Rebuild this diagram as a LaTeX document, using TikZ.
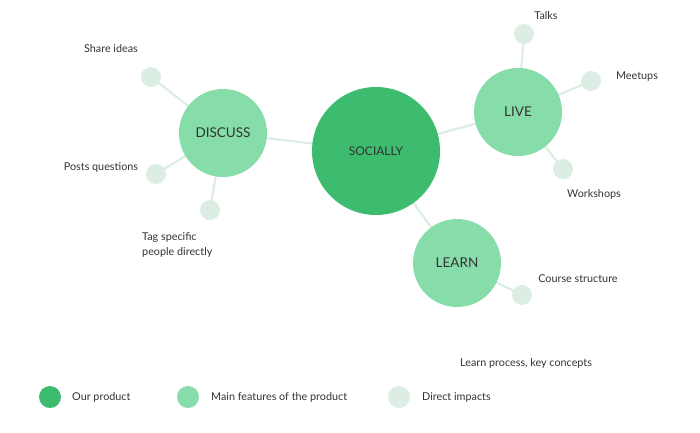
\documentclass[tikz,border=0pt]{standalone}
\usepackage{fontspec}
\setmainfont{Lato}
\definecolor{dk}{HTML}{3DBC6F}
\definecolor{md}{HTML}{86DDA9}
\definecolor{lt}{HTML}{DCEDE3}
\definecolor{txt}{HTML}{333333}
\pgfdeclarelayer{bg}
\pgfsetlayers{bg,main}
\begin{document}
\begin{tikzpicture}[x=1pt,y=-1pt,
  prod/.style={circle,fill=dk,minimum size=128pt,inner sep=0pt,text=txt,font=\fontsize{12}{14}\selectfont},
  feat/.style={circle,fill=md,minimum size=88pt,inner sep=0pt,text=txt,font=\fontsize{13.5}{15}\selectfont},
  imp/.style={circle,fill=lt,minimum size=20pt,inner sep=0pt},
  lab/.style={text=txt,font=\fontsize{10.8}{15}\selectfont,inner sep=0pt},
  link/.style={draw=lt,line width=2.2pt},
  legdot/.style={circle,minimum size=22pt,inner sep=0pt}]
\useasboundingbox (0,0) rectangle (700,432);
% nodes
\node[prod] (soc) at (376,151) {SOCIALLY};
\node[feat] (disc) at (223,133) {DISCUSS};
\node[feat] (live) at (518,112) {LIVE};
\node[feat] (learn) at (457,263) {LEARN};
\node[imp] (share) at (151,77) {};
\node[imp] (posts) at (156,174) {};
\node[imp] (tag) at (210,210) {};
\node[imp] (talks) at (524,34) {};
\node[imp] (meet) at (591,81) {};
\node[imp] (work) at (563,169) {};
\node[imp] (course) at (522,295) {};
% links
\begin{pgfonlayer}{bg}
\draw[link] (soc.center) -- (disc.center);
\draw[link] (soc.center) -- (live.center);
\draw[link] (soc.center) -- (learn.center);
\draw[link] (disc.center) -- (share.center);
\draw[link] (disc.center) -- (posts.center);
\draw[link] (disc.center) -- (tag.center);
\draw[link] (live.center) -- (talks.center);
\draw[link] (live.center) -- (meet.center);
\draw[link] (live.center) -- (work.center);
\draw[link] (learn.center) -- (course.center);
\end{pgfonlayer}
% labels
\node[lab] (lshare) at (111,49) {Share ideas};
\node[lab] (lposts) at (101,167) {Posts questions};
\node[lab,align=left,anchor=west] (ltag) at (142,245) {Tag specific\\people directly};
\node[lab] (ltalks) at (546,16) {Talks};
\node[lab] (lmeet) at (637,77) {Meetups};
\node[lab] (lwork) at (594,194) {Workshops};
\node[lab] (lcourse) at (578,279) {Course structure};
\node[lab,anchor=west] (lproc) at (460,363) {Learn process, key concepts};
% legend
\node[legdot,fill=dk] (g1) at (50,397) {};
\node[lab,anchor=west] (tg1) at (72,397) {Our product};
\node[legdot,fill=md] (g2) at (188,397) {};
\node[lab,anchor=west] (tg2) at (211,397) {Main features of the product};
\node[legdot,fill=lt] (g3) at (399,397) {};
\node[lab,anchor=west] (tg3) at (422,397) {Direct impacts};
\end{tikzpicture}
\end{document}
